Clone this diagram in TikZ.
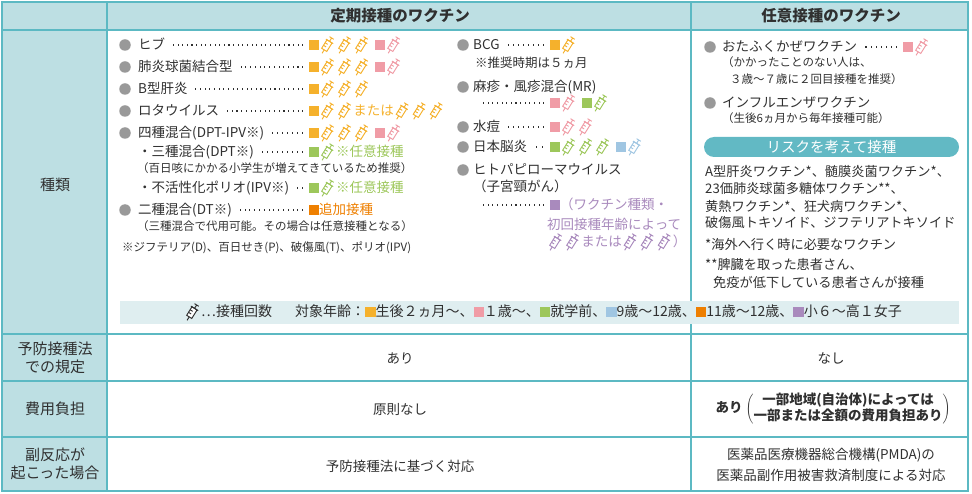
\documentclass[tikz,border=0pt]{standalone}
\usepackage{fontspec}
\setmainfont{Noto Sans CJK JP}
\usetikzlibrary{positioning}

\definecolor{rulec}{HTML}{5CB9C3}
\definecolor{headfill}{HTML}{BDDFE3}
\definecolor{legfill}{HTML}{DFEEF0}
\definecolor{riskfill}{HTML}{62B9C4}
\definecolor{ink}{HTML}{303030}
\definecolor{c2m}{HTML}{F5B12C}
\definecolor{c1y}{HTML}{F09CA6}
\definecolor{cpre}{HTML}{9DC75B}
\definecolor{c9y}{HTML}{A0C6E2}
\definecolor{c11y}{HTML}{EE7F00}
\definecolor{chpv}{HTML}{A98ABD}
\colorlet{bulgray}{black!40}

\newcommand{\sq}[1]{\textcolor{#1}{\rule{0.74em}{0.74em}}}
\newcommand{\syr}[1]{\hspace{2pt}\tikz[baseline={(0,-4.8pt)},x=1pt,y=1pt]{\begin{scope}[rotate=-32,draw=#1,line width=0.95pt]
  \draw[fill=white] (-3,-5.5) rectangle (3,4.5);
  \draw (-4.3,4.5)--(4.3,4.5) (0,4.5)--(0,8.5) (-2.5,8.5)--(2.5,8.5) (0,-5.5)--(0,-9.5) (-3,-2)--(0,-2) (-3,1)--(0,1);
  \end{scope}}\hspace{2pt}}
\newcommand{\dotsto}[2]{\makebox[#1][l]{#2\hspace{6pt}\xleaders\hbox to 4.6pt{\hss\raisebox{0.33em}{\rule{1.1pt}{1.1pt}}\hss}\hfill\hspace{4pt}}}

\tikzset{
  item/.style={anchor=base west, inner sep=0pt, text=ink, font=\fontsize{13.5}{16}\selectfont},
  note/.style={item, font=\fontsize{11.5}{14}\selectfont},
  risktext/.style={item, font=\fontsize{13.2}{15}\selectfont},
  legtext/.style={item, font=\fontsize{14}{16}\selectfont},
  colhead/.style={text=ink, font=\fontsize{15.5}{18}\selectfont\bfseries},
  rowhead/.style={text=ink, align=center, font=\fontsize{15}{17.5}\selectfont},
  cell/.style={text=ink, align=center, font=\fontsize{13.5}{21}\selectfont},
  riskbox/.style={fill=riskfill, text=white, rounded corners=10pt, minimum width=255pt, minimum height=20pt, inner sep=0pt, font=\fontsize{14.5}{16}\selectfont}
  }
\tikzstyle{bullet}=[circle, fill=bulgray, minimum size=11.5pt, inner sep=0pt]
\tikzstyle{gridline}=[draw=rulec, line width=1.2pt]

\begin{document}
\begin{tikzpicture}[x=1pt, y=-1pt]
  \useasboundingbox (0,0) rectangle (972,494);

  % table
  \fill[headfill] (2,2) rectangle (968,30);
  \fill[headfill] (2,30) rectangle (107,491);
  \draw[gridline] (2,30) -- (968,30);
  \draw[gridline] (2,334) -- (968,334);
  \draw[gridline] (2,381) -- (968,381);
  \draw[gridline] (2,437) -- (968,437);
  \draw[gridline] (107,2) -- (107,491);
  \draw[gridline] (691,2) -- (691,491);
  \fill[legfill] (120,301) rectangle (959,324);
  \draw[gridline, line width=2pt] (2,2) rectangle (968,491);

  \node[colhead] (routine) at (400,16) {定期接種のワクチン};
  \node[colhead] (optional) at (831,16) {任意接種のワクチン};

  \node[rowhead] (kind) at (55,185) {種類};
  \node[rowhead] (law) at (55,358) {予防接種法\\での規定};
  \node[rowhead] (cost) at (55,409) {費用負担};
  \node[rowhead] (adverse) at (55,464) {副反応が\\起こった場合};

  \foreach \x/\y/\name in {125/45/bhib, 125/67/bpneumo, 125/89/bhepb, 125/111/brota, 125/133/bdpt, 125/210/bdt,
      463/45/bbcg, 463/87/bmr, 463/127/bvari, 463/147/bjenc, 463/170/bhpv, 710/47/bmumps, 710/103/bflu} {
    \node[bullet] (\name) at (\x,\y) {};
  }

  % routine vaccines
  \node[item] (hib) at (138,50) {\dotsto{171pt}{ヒブ}\sq{c2m}\syr{c2m}\syr{c2m}\syr{c2m}\hspace{5pt}\sq{c1y}\syr{c1y}};
  \node[item] (pneumo) at (138,72) {\dotsto{171pt}{肺炎球菌結合型}\sq{c2m}\syr{c2m}\syr{c2m}\syr{c2m}\hspace{5pt}\sq{c1y}\syr{c1y}};
  \node[item] (hepb) at (138,94) {\dotsto{171pt}{B型肝炎}\sq{c2m}\syr{c2m}\syr{c2m}\syr{c2m}};
  \node[item] (rota) at (138,116) {\dotsto{171pt}{ロタウイルス}\sq{c2m}\syr{c2m}\syr{c2m}\textcolor{c2m}{または}\syr{c2m}\syr{c2m}\syr{c2m}};
  \node[item] (dpt) at (138,138) {\dotsto{171pt}{四種混合(DPT-IPV※)}\sq{c2m}\syr{c2m}\syr{c2m}\syr{c2m}\hspace{5pt}\sq{c1y}\syr{c1y}};
  \node[item] (dpt3) at (138,157) {\dotsto{171pt}{・三種混合(DPT※)}\sq{cpre}\syr{cpre}\textcolor{cpre}{※任意接種}};
  \node[note] (dpt3note) at (137,173) {（百日咳にかかる小学生が増えてきているため推奨）};
  \node[item] (ipv) at (138,193) {\dotsto{171pt}{・不活性化ポリオ(IPV※)}\sq{cpre}\syr{cpre}\textcolor{cpre}{※任意接種}};
  \node[item] (dt) at (138,215) {\dotsto{171pt}{二種混合(DT※)}\sq{c11y}\textcolor{c11y}{追加接種}};
  \node[note] (dtnote) at (137,231) {（三種混合で代用可能。その場合は任意接種となる）};
  \node[note] (dptkey) at (122,252) {※ジフテリア(D)、百日せき(P)、破傷風(T)、ポリオ(IPV)};

  \node[item] (bcg) at (473,50) {\dotsto{77pt}{BCG}\sq{c2m}\syr{c2m}};
  \node[note, font=\fontsize{12.5}{15}\selectfont] (bcgnote) at (475,68) {※推奨時期は５ヵ月};
  \node[item] (mr) at (473,92) {麻疹・風疹混合(MR)};
  \node[item] (mrdose) at (475,108) {\dotsto{75pt}{}\sq{c1y}\syr{c1y}\hspace{5pt}\sq{cpre}\syr{cpre}};
  \node[item] (vari) at (473,132) {\dotsto{77pt}{水痘}\sq{c1y}\syr{c1y}\syr{c1y}};
  \node[item] (jenc) at (473,152) {\dotsto{77pt}{日本脳炎}\sq{cpre}\syr{cpre}\syr{cpre}\syr{cpre}\hspace{5pt}\sq{c9y}\syr{c9y}};
  \node[item] (hpv) at (473,175) {ヒトパピローマウイルス};
  \node[item] (hpvsub) at (473,192) {（子宮頸がん）};
  \node[item] (hpvdose) at (475,210) {\dotsto{75pt}{}\sq{chpv}\textcolor{chpv}{（ワクチン種類・}};
  \node[item, text=chpv] (hpvage) at (547,230) {初回接種年齢によって};
  \node[item, text=chpv] (hpvcount) at (547,247) {\syr{chpv}\syr{chpv}または\syr{chpv}\syr{chpv}\syr{chpv}）};

  % optional vaccines
  \node[item] (mumps) at (722,52) {\dotsto{181pt}{おたふくかぜワクチン}\sq{c1y}\syr{c1y}};
  \node[note] (mumpsnote) at (722,67) {（かかったことのない人は、};
  \node[note] (mumpsage) at (730,84) {３歳～７歳に２回目接種を推奨）};
  \node[item] (flu) at (722,108) {インフルエンザワクチン};
  \node[note] (flunote) at (722,123) {（生後6ヵ月から毎年接種可能）};

  \node[riskbox] (risk) at (831.5,147) {リスクを考えて接種};
  \node[risktext] (riska) at (705,177) {A型肝炎ワクチン*、髄膜炎菌ワクチン*、};
  \node[risktext] (riskb) at (705,194) {23価肺炎球菌多糖体ワクチン**、};
  \node[risktext] (riskc) at (705,212) {黄熱ワクチン*、狂犬病ワクチン*、};
  \node[risktext] (riskd) at (705,228) {破傷風トキソイド、ジフテリアトキソイド};
  \node[risktext] (riske) at (705,250) {*海外へ行く時に必要なワクチン};
  \node[risktext] (riskf) at (705,270) {**脾臓を取った患者さん、};
  \node[risktext] (riskg) at (713,288) {免疫が低下している患者さんが接種};

  % legend
  \node[legtext] (legcount) at (184,317) {\syr{ink}…接種回数};
  \node[legtext] (legage) at (295,317) {対象年齢：\sq{c2m}生後２ヵ月～、\sq{c1y}１歳～、\sq{cpre}就学前、\sq{c9y}9歳～12歳、\sq{c11y}11歳～12歳、\sq{chpv}小６～高１女子};

  % lower rows
  \node[cell] (lawr) at (400,358) {あり};
  \node[cell] (lawo) at (831,358) {なし};
  \node[cell] (costr) at (400,410) {原則なし};
  \node[cell, font=\fontsize{13.5}{16}\selectfont\bfseries] (costo) at (833,409) {あり $\left(\begin{tabular}{@{}c@{}}一部地域(自治体)によっては\\一部または全額の費用負担あり\end{tabular}\right)$};
  \node[cell] (advr) at (400,466) {予防接種法に基づく対応};
  \node[cell] (advo) at (831,465) {医薬品医療機器総合機構(PMDA)の\\医薬品副作用被害救済制度による対応};
\end{tikzpicture}
\end{document}
